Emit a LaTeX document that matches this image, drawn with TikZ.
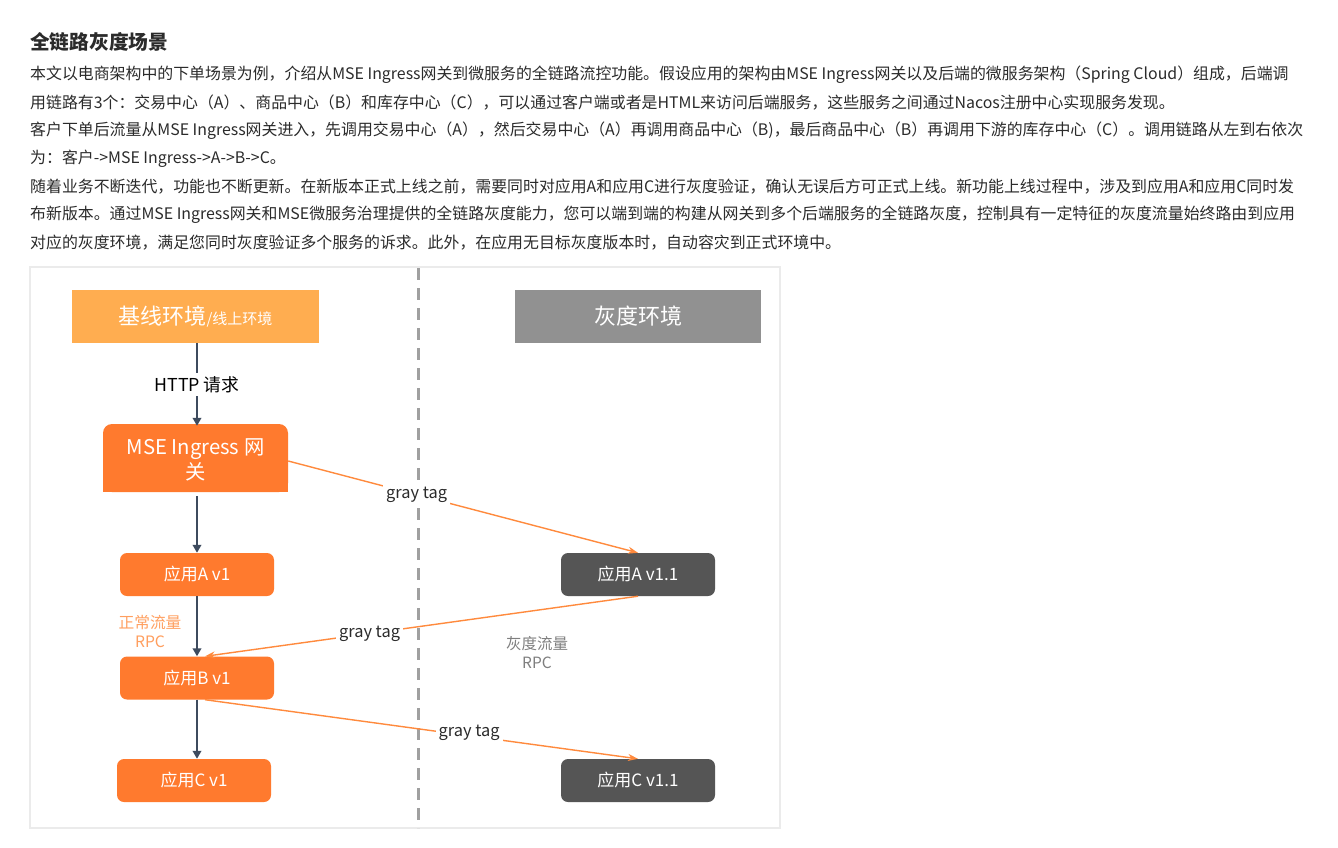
\documentclass[tikz,border=0pt]{standalone}
\usepackage{fontspec}
\setmainfont{Noto Sans CJK SC}
\usetikzlibrary{arrows.meta}
\definecolor{orgA}{HTML}{FF7A2E}
\definecolor{orgTop}{HTML}{FFAD50}
\definecolor{grayTop}{HTML}{919191}
\definecolor{darkBox}{HTML}{555555}
\definecolor{navy}{HTML}{3E4B5E}
\definecolor{tagline}{HTML}{FF8A3D}
\definecolor{dashc}{HTML}{A0A0A0}
\definecolor{txt}{HTML}{2B2B2B}
\definecolor{lightorg}{HTML}{FF9F5F}
\definecolor{midgray}{HTML}{7F7F7F}
\definecolor{framec}{HTML}{EBEBEB}
\tikzset{
  bodyline/.style={anchor=west, inner sep=0pt, text=txt, font=\fontsize{15.9}{18}\selectfont},
  appbox/.style={rounded corners=7pt, minimum width=154pt, minimum height=43pt, text=white, inner sep=0pt, font=\fontsize{17}{20}\selectfont},
  orgbox/.style={appbox, fill=orgA},
  graybox/.style={appbox, fill=darkBox},
  envbox/.style={minimum height=53pt, inner sep=0pt, text=white},
  darkarr/.style={draw=navy, line width=2.6pt, -{Triangle[length=8pt,width=8.5pt]}},
  tagarr/.style={draw=tagline, line width=1.4pt, -{Stealth[length=10pt,width=7pt]}},
  taglabel/.style={fill=white, text=txt, inner sep=3pt, font=\fontsize{16.4}{19}\selectfont}
}
\begin{document}
\begin{tikzpicture}[x=1pt,y=-1pt]
\useasboundingbox (0,0) rectangle (1338,847);
\fill[white] (0,0) rectangle (1338,847);
% text
\node[bodyline, font=\fontsize{19.7}{22}\selectfont\bfseries] (title) at (30,42) {全链路灰度场景};
\node[bodyline] (l1) at (30,75) {本文以电商架构中的下单场景为例，介绍从MSE Ingress网关到微服务的全链路流控功能。假设应用的架构由MSE Ingress网关以及后端的微服务架构（Spring Cloud）组成，后端调};
\node[bodyline] (l2) at (30,103) {用链路有3个：交易中心（A）、商品中心（B）和库存中心（C），可以通过客户端或者是HTML来访问后端服务，这些服务之间通过Nacos注册中心实现服务发现。};
\node[bodyline] (l3) at (30,131) {客户下单后流量从MSE Ingress网关进入，先调用交易中心（A），然后交易中心（A）再调用商品中心（B)，最后商品中心（B）再调用下游的库存中心（C）。调用链路从左到右依次};
\node[bodyline] (l4) at (30,159) {为：客户->MSE Ingress->A->B->C。};
\node[bodyline] (l5) at (30,187) {随着业务不断迭代，功能也不断更新。在新版本正式上线之前，需要同时对应用A和应用C进行灰度验证，确认无误后方可正式上线。新功能上线过程中，涉及到应用A和应用C同时发};
\node[bodyline] (l6) at (30,215) {布新版本。通过MSE Ingress网关和MSE微服务治理提供的全链路灰度能力，您可以端到端的构建从网关到多个后端服务的全链路灰度，控制具有一定特征的灰度流量始终路由到应用};
\node[bodyline] (l7) at (30,243) {对应的灰度环境，满足您同时灰度验证多个服务的诉求。此外，在应用无目标灰度版本时，自动容灾到正式环境中。};
% frame
\draw[framec, line width=1.5pt] (30,267) rectangle (780,828);
\draw[dashc, line width=3pt, dash pattern=on 12pt off 8pt] (418,268) -- (418,828);
% env boxes
\node[envbox, fill=orgTop, minimum width=247pt] (base) at (195.5,316.5) {\fontsize{22}{26}\selectfont 基线环境\fontsize{15}{18}\selectfont /线上环境};
\node[envbox, fill=grayTop, minimum width=246pt, font=\fontsize{22}{26}\selectfont] (grayenv) at (638,316.5) {灰度环境};
% MSE gateway shape
\fill[orgA, rounded corners=9pt] (103,424) rectangle (288,492);
\fill[orgA] (103,460) rectangle (288,492);
\node[minimum width=185pt, minimum height=68pt, inner sep=0pt, text=white, align=center, font=\fontsize{20.3}{25}\selectfont] (mse) at (195.5,460) {MSE Ingress 网\\关};
% apps
\node[orgbox] (av1) at (197,574.5) {应用A v1};
\node[orgbox] (bv1) at (197,678) {应用B v1};
\node[orgbox] (cv1) at (194,780.5) {应用C v1};
\node[graybox] (av11) at (638,574.5) {应用A v1.1};
\node[graybox] (cv11) at (638,780.5) {应用C v1.1};
% side labels
\node[text=lightorg, align=center, inner sep=0pt, font=\fontsize{15.7}{19}\selectfont] (normal) at (150,631) {正常流量\\RPC};
\node[text=midgray, align=center, inner sep=0pt, font=\fontsize{15.5}{19}\selectfont] (grayflow) at (537,653) {灰度流量\\RPC};
% dark arrows
\draw[darkarr] (base.south -| av1.north) -- node[fill=white, text=black, inner sep=3pt, font=\fontsize{17.8}{20}\selectfont] (http) {HTTP 请求} (mse.north -| av1.north);
\draw[darkarr] ([yshift=-2pt]mse.south -| av1.north) -- (av1.north);
\draw[darkarr] (av1.south) -- (bv1.north);
\draw[darkarr] (bv1.south) -- (cv1.north -| bv1.south);
% gray tag arrows
\draw[tagarr] ([yshift=-1pt]mse.east) -- node[taglabel, pos=0.367] (t1) {gray tag} (av11.north);
\draw[tagarr] (av11.south) -- node[taglabel, pos=0.62] (t2) {gray tag} ([xshift=8pt]bv1.north);
\draw[tagarr] ([xshift=8pt]bv1.south) -- node[taglabel, pos=0.61, yshift=3pt] (t3) {gray tag} (cv11.north);
\end{tikzpicture}
\end{document}
